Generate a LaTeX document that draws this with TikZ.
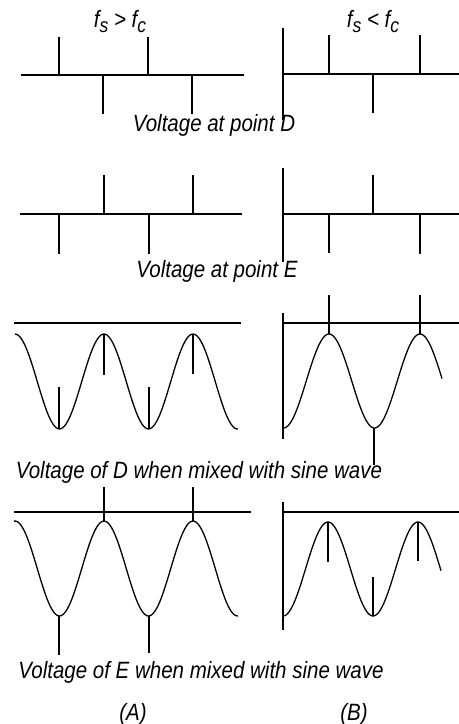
\documentclass[tikz,border=0pt]{standalone}
\usepackage{fontspec}
\setmainfont{Liberation Sans}
\usepackage{graphicx}
\usepackage{tikz}
\tikzstyle{trace} = [line width=1.2pt]
\tikzstyle{pulse} = [line width=1.2pt]
\tikzstyle{wave} = [line width=1.1pt, smooth, samples=120]
\newcommand{\lowsub}[1]{\raisebox{-0.45ex}{\fontsize{15}{15}\selectfont #1}}
\newcommand{\tall}[1]{\scalebox{1}[1.15]{#1}}

\begin{document}
\begin{tikzpicture}[x=0.03cm, y=-0.03cm, lbl/.style={font=\fontsize{17.5}{20}\selectfont\itshape, inner sep=0pt, anchor=base}]
    \useasboundingbox (0,0) rectangle (459,724);
    % headings
    \node[lbl] (headA) at (120,27) {\tall{f\lowsub{s} > f\lowsub{c}}};
    \node[lbl] (headB) at (373,27) {\tall{f\lowsub{s} < f\lowsub{c}}};
    % voltage at D
    \draw[trace] (21,75) -- (244,75);
    \draw[pulse] (59,37) -- (59,75);
    \draw[pulse] (148,37) -- (148,75);
    \draw[pulse] (103,75) -- (103,114);
    \draw[pulse] (192,75) -- (192,114);
    \draw[trace] (283,28) -- (283,120);
    \draw[trace] (283,74) -- (459,74);
    \draw[pulse] (329,35) -- (329,74);
    \draw[pulse] (420,35) -- (420,74);
    \draw[pulse] (373,74) -- (373,113);
    \node[lbl] (labD) at (214,131) {\tall{Voltage at point D}};
    % voltage at E
    \draw[trace] (20,214) -- (242,214);
    \draw[pulse] (59,214) -- (59,254);
    \draw[pulse] (149,214) -- (149,254);
    \draw[pulse] (104,175) -- (104,214);
    \draw[pulse] (193,175) -- (193,214);
    \draw[trace] (283,168) -- (283,262);
    \draw[trace] (283,214) -- (459,214);
    \draw[pulse] (329,214) -- (329,253);
    \draw[pulse] (420,214) -- (420,254);
    \draw[pulse] (373,175) -- (373,214);
    \node[lbl] (labE) at (217,277) {\tall{Voltage at point E}};
    % D mixed with sine wave
    \draw[trace] (14,323) -- (241,323);
    \draw[wave] plot[domain=15:238] (\x, {381.5-47.5*cos(4.0449*(\x-104))});
    \draw[pulse] (104,334) -- (104,375);
    \draw[pulse] (193,334) -- (193,374);
    \draw[pulse] (59,429) -- (59,387);
    \draw[pulse] (149,429) -- (149,387);
    \draw[trace] (283,313) -- (283,439);
    \draw[trace] (283,323) -- (459,323);
    \draw[wave] plot[domain=283:442] (\x, {381-47*cos(3.956*(\x-329))});
    \draw[pulse] (329,334) -- (329,295);
    \draw[pulse] (420,334) -- (420,295);
    \draw[pulse] (374,428) -- (374,465);
    \node[lbl] (labDmix) at (199,478) {\tall{Voltage of D when mixed with sine wave}};
    % E mixed with sine wave
    \draw[trace] (14,512) -- (251,512);
    \draw[wave] plot[domain=14:238] (\x, {568.5-47.5*cos(4.0449*(\x-104))});
    \draw[pulse] (104,521) -- (104,487);
    \draw[pulse] (193,521) -- (193,487);
    \draw[pulse] (59,616) -- (59,655);
    \draw[pulse] (149,616) -- (149,653);
    \draw[trace] (283,502) -- (283,630);
    \draw[trace] (283,512) -- (459,512);
    \draw[wave] plot[domain=283:441] (\x, {569-47*cos(4*(\x-328))});
    \draw[pulse] (328,522) -- (328,562);
    \draw[pulse] (418,522) -- (418,561);
    \draw[pulse] (373,616) -- (373,577);
    \node[lbl] (labEmix) at (201,678) {\tall{Voltage of E when mixed with sine wave}};
    % columns
    \node[lbl] (colA) at (133,720) {\tall{(A)}};
    \node[lbl] (colB) at (354,720) {\tall{(B)}};
\end{tikzpicture}
\end{document}
